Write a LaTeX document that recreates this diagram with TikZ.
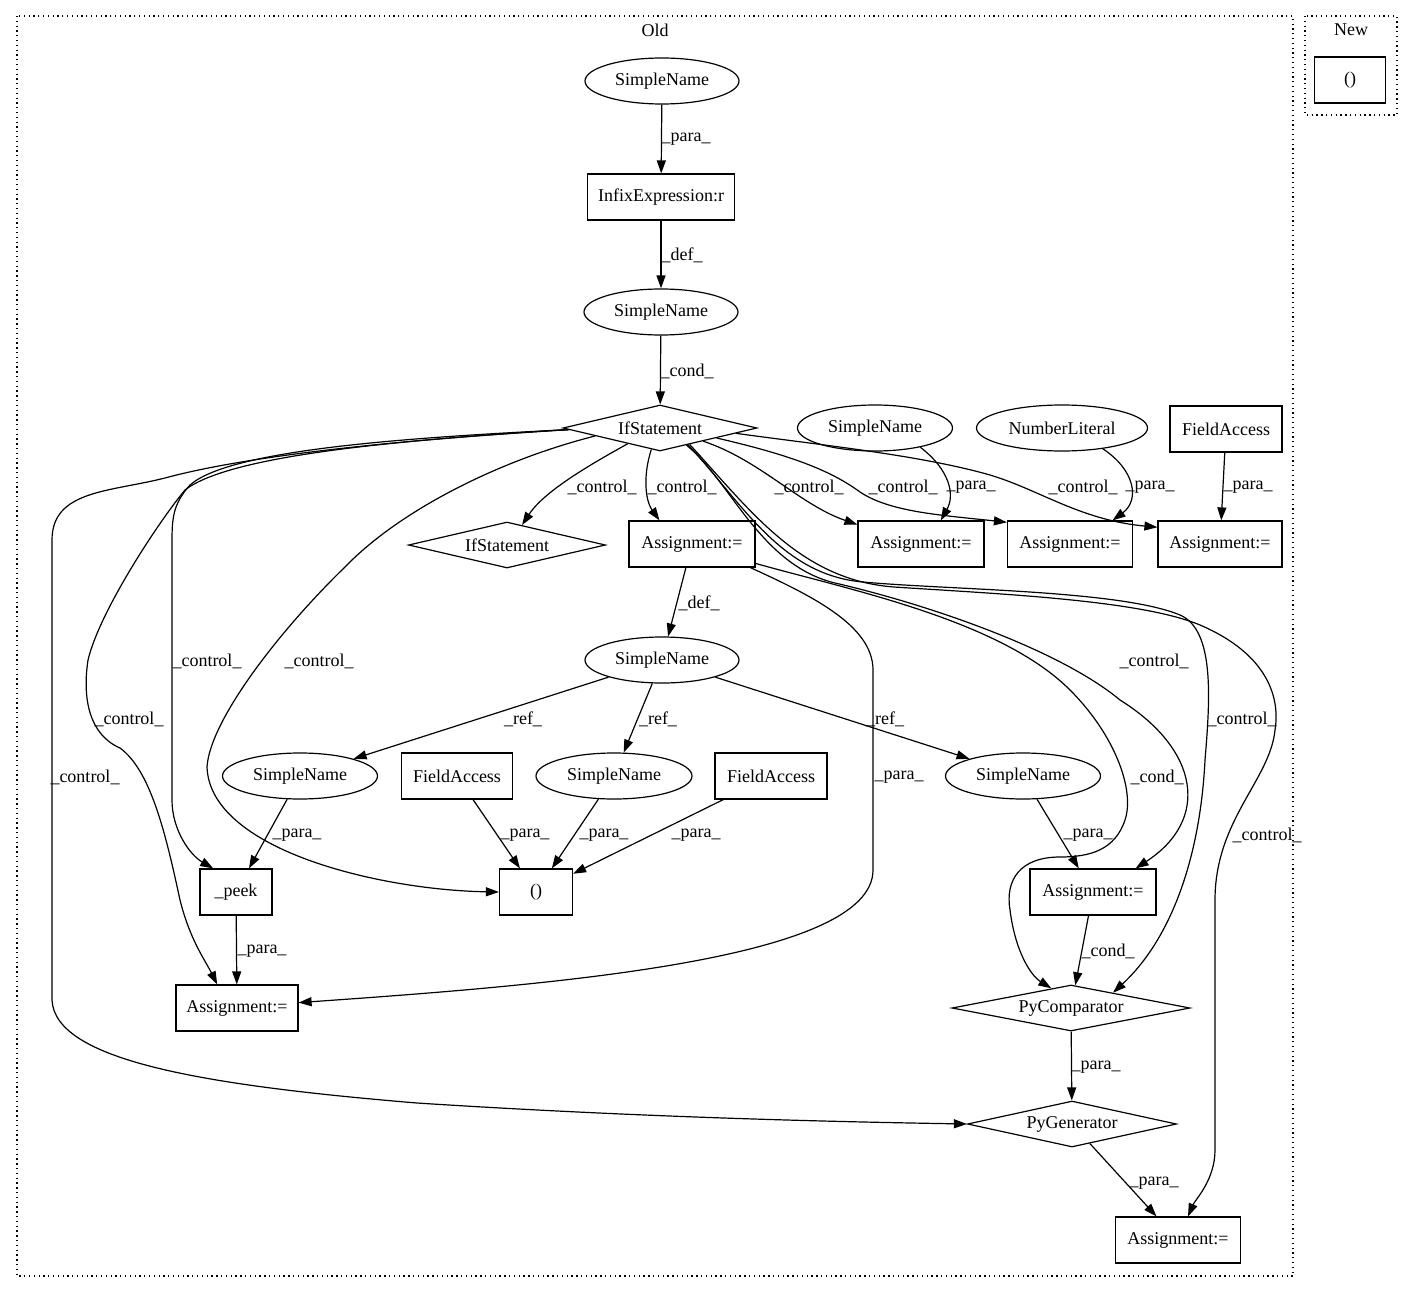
\documentclass[tikz,border=0pt]{standalone}
\usepackage{fontspec}
\setmainfont{Liberation Serif}
\usetikzlibrary{shapes.geometric,arrows.meta}
\begin{document}
\begin{tikzpicture}[x=1pt,y=-1pt,
  every node/.style={font=\fontsize{18}{20}\selectfont},
  box/.style={draw, rectangle, line width=1.2pt, minimum height=46pt, inner sep=0pt},
  ell/.style={draw, ellipse, line width=1.2pt, minimum height=46pt, inner sep=0pt},
  dia/.style={draw, diamond, aspect=5, line width=1.2pt, minimum height=46pt, inner sep=0pt},
  lbl/.style={inner sep=0pt},
  edge/.style={line width=1.2pt, -{Triangle[length=13pt,width=9pt]}},
  cluster/.style={draw, line width=1.2pt, dash pattern=on 1.3pt off 3.5pt}]
\useasboundingbox (0,0) rectangle (1413,1292);
% clusters
\draw[cluster] (17,16) rectangle (1293,1276);
\draw[cluster] (1305,16) rectangle (1397,115);
\node (old) at (655,30) {Old};
\node (new) at (1351,30) {New};
\node[box, minimum width=71pt] (np) at (1350,80) {()};
% nodes
\node[ell, minimum width=154pt] (sn1) at (662,81) {SimpleName};
\node[box, minimum width=147pt] (infix) at (661,197) {InfixExpression:r};
\node[ell, minimum width=154pt] (sn2) at (661,312) {SimpleName};
\node[dia, minimum width=194pt] (if1) at (660,428) {IfStatement};
\node[ell, minimum width=155pt] (sn3) at (875,428) {SimpleName};
\node[ell, minimum width=171pt] (nl) at (1062,428) {NumberLiteral};
\node[box, minimum width=112pt] (fa1) at (1226,429) {FieldAccess};
\node[dia, minimum width=197pt] (if2) at (507,545) {IfStatement};
\node[box, minimum width=126pt] (a1) at (692,544) {Assignment:=};
\node[box, minimum width=126pt] (a2) at (921,544) {Assignment:=};
\node[box, minimum width=125pt] (a3) at (1070,544) {Assignment:=};
\node[box, minimum width=124pt] (a4) at (1220,544) {Assignment:=};
\node[ell, minimum width=154pt] (sn4) at (662,660) {SimpleName};
\node[ell, minimum width=155pt] (sn5) at (300,776) {SimpleName};
\node[box, minimum width=111pt] (fa2) at (457,776) {FieldAccess};
\node[ell, minimum width=156pt] (sn6) at (614,776) {SimpleName};
\node[box, minimum width=112pt] (fa3) at (771,776) {FieldAccess};
\node[ell, minimum width=155pt] (sn7) at (1023,776) {SimpleName};
\node[box, minimum width=72pt] (peek) at (236,892) {\_peek};
\node[box, minimum width=73pt] (par) at (536,892) {()};
\node[box, minimum width=126pt] (a5) at (1093,892) {Assignment:=};
\node[box, minimum width=122pt] (a6) at (237,1008) {Assignment:=};
\node[dia, minimum width=238pt] (pyc) at (1071,1008) {PyComparator};
\node[dia, minimum width=209pt] (pyg) at (1072,1124) {PyGenerator};
\node[box, minimum width=125pt] (a7) at (1178,1240) {Assignment:=};
% straight edges
\draw[edge] (sn1) -- (infix);
\draw[edge] (infix) -- (sn2);
\draw[edge] (sn2) -- (if1);
\draw[edge] (fa1) -- (a4);
\draw[edge] (a1) -- (sn4);
\draw[edge] (sn4) -- (sn5);
\draw[edge] (sn4) -- (sn6);
\draw[edge] (sn4) -- (sn7);
\draw[edge] (sn5) -- (peek);
\draw[edge] (fa2) -- (par);
\draw[edge] (sn6) -- (par);
\draw[edge] (fa3) -- (par);
\draw[edge] (sn7) -- (a5);
\draw[edge] (a5) -- (pyc);
\draw[edge] (pyc) -- (pyg);
\draw[edge] (pyg) -- (a7);
\draw[edge] (peek) -- (a6);
% curved edges from upper IfStatement
\draw[edge] (if1.206) .. controls (595,462) and (545,490) .. (if2.53);
\draw[edge] (if1.248) .. controls (643,475) and (645,500) .. (a1.144);
\draw[edge] (if1.343) .. controls (760,460) and (800,505) .. (a2.163);
\draw[edge] (if1.350) .. controls (790,455) and (830,470) .. (860,492)
   .. controls (890,512) and (940,515) .. (a3.161);
\draw[edge] (if1.356) .. controls (820,445) and (920,455) .. (990,475)
   .. controls (1040,490) and (1080,520) .. (a4.165);
\draw[edge] (sn3.-23) .. controls (950,470) and (955,495) .. (a2.50);
\draw[edge] (nl.-27) .. controls (1135,470) and (1140,500) .. (a3.29);
\draw[edge] (if1.-33) .. controls (730,480) and (760,565) .. (835,583)
   .. controls (930,605) and (1060,650) .. (1120,700)
   .. controls (1200,750) and (1210,820) .. (a5.29);
\draw[edge] (if1.-31) .. controls (740,500) and (780,575) .. (863,582)
   .. controls (950,590) and (1120,590) .. (1180,615)
   .. controls (1215,630) and (1210,700) .. (1205,760)
   .. controls (1200,860) and (1170,940) .. (pyc.20);
\draw[edge] (if1.-29) .. controls (750,510) and (800,580) .. (894,587)
   .. controls (1000,594) and (1140,600) .. (1200,625)
   .. controls (1270,655) and (1280,700) .. (1275,730)
   .. controls (1270,780) and (1215,820) .. (1215,900) -- (1215,1150)
   .. controls (1215,1180) and (1195,1200) .. (a7.67);
\draw[edge] (if1.181) .. controls (400,440) and (250,455) .. (165,478)
   .. controls (110,492) and (52,490) .. (52,540) -- (52,1000)
   .. controls (55,1060) and (200,1085) .. (417,1103)
   .. controls (650,1118) and (850,1122) .. (pyg.west);
\draw[edge] (if1.181) .. controls (400,440) and (230,455) .. (185,490)
   .. controls (160,520) and (100,610) .. (88,660)
   .. controls (82,700) and (90,735) .. (120,748)
   .. controls (150,770) and (165,830) .. (180,900)
   .. controls (190,940) and (205,960) .. (a6.130);
\draw[edge] (if1.181) .. controls (400,438) and (230,450) .. (190,485)
   .. controls (172,505) and (172,520) .. (172,545) -- (172,800)
   .. controls (172,830) and (190,855) .. (peek.134);
\draw[edge] (if1.187) .. controls (500,460) and (400,510) .. (345,567)
   .. controls (280,630) and (210,720) .. (207,767)
   .. controls (210,850) and (380,890) .. (par.west);
% edges from Assignment (a1)
\draw[edge] (a1.-22) .. controls (810,595) and (873,625) .. (873,670) -- (873,870)
   .. controls (873,960) and (550,985) .. (a6.5);
\draw[edge] (a1.-17) .. controls (850,590) and (1000,620) .. (1070,690)
   .. controls (1115,735) and (1135,790) .. (1125,820)
   .. controls (1115,850) and (1090,857) .. (1060,857)
   .. controls (1020,857) and (1005,880) .. (1010,910)
   .. controls (1015,950) and (1030,975) .. (pyc.135);
% labels
\node[lbl] (t1) at (686,139) {\_para\_};
\node[lbl] (t2) at (682,255) {\_def\_};
\node[lbl] (t3) at (687,371) {\_cond\_};
\node[lbl] (t4) at (602,487) {\_control\_};
\node[lbl] (t5) at (682,487) {\_control\_};
\node[lbl] (t6) at (809,487) {\_control\_};
\node[lbl] (t7) at (903,487) {\_control\_};
\node[lbl] (t8) at (971,487) {\_para\_};
\node[lbl] (t9) at (1083,487) {\_control\_};
\node[lbl] (t10) at (1150,487) {\_para\_};
\node[lbl] (t11) at (1248,487) {\_para\_};
\node[lbl] (t12) at (699,603) {\_def\_};
\node[lbl] (t13) at (207,661) {\_control\_};
\node[lbl] (t14) at (319,661) {\_control\_};
\node[lbl] (t15) at (1154,661) {\_control\_};
\node[lbl] (t16) at (129,719) {\_control\_};
\node[lbl] (t17) at (523,719) {\_ref\_};
\node[lbl] (t18) at (658,719) {\_ref\_};
\node[lbl] (t19) at (885,719) {\_ref\_};
\node[lbl] (t20) at (1242,719) {\_control\_};
\node[lbl] (t21) at (85,777) {\_control\_};
\node[lbl] (t22) at (899,777) {\_para\_};
\node[lbl] (t23) at (1157,777) {\_cond\_};
\node[lbl] (t24) at (297,835) {\_para\_};
\node[lbl] (t25) at (525,835) {\_para\_};
\node[lbl] (t26) at (604,835) {\_para\_};
\node[lbl] (t27) at (696,835) {\_para\_};
\node[lbl] (t28) at (1088,835) {\_para\_};
\node[lbl] (t29) at (1267,835) {\_control\_};
\node[lbl] (t30) at (262,951) {\_para\_};
\node[lbl] (t31) at (1108,951) {\_cond\_};
\node[lbl] (t32) at (1096,1067) {\_para\_};
\node[lbl] (t33) at (1154,1183) {\_para\_};
\end{tikzpicture}
\end{document}
